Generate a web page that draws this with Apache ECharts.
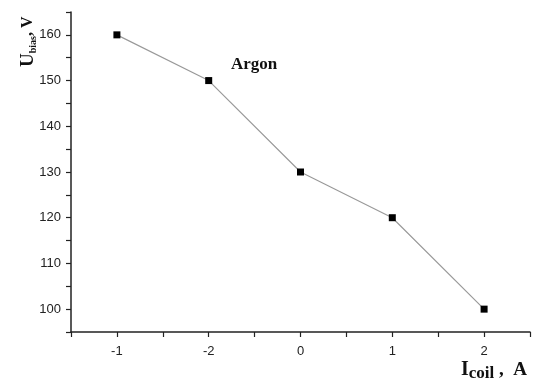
<!DOCTYPE html>
<html>
<head>
<meta charset="utf-8">
<script src="https://cdn.jsdelivr.net/npm/echarts@6/dist/echarts.min.js"></script>
<style>
  html, body { margin: 0; padding: 0; background: #fff; }
  #chart { width: 534px; height: 383px; }
</style>
</head>
<body>
<div id="chart"></div>
<script>
// Coil current settings (as labelled on the axis, in measurement order)
const coilLabels = ['-1', '-2', '0', '1', '2'];
// Bias voltage measured for each setting, V
const biasVoltage = [160, 150, 130, 120, 100];
// Voltage axis range and labelled ticks
const yMin = 95, yMax = 165;
const yLabelStep = 10;

const points = coilLabels.map((lab, i) => [i + 1, biasVoltage[i]]);

const serif = '"Liberation Serif", "Times New Roman", serif';
const sans = '"Liberation Sans", Arial, sans-serif';

const chart = echarts.init(document.getElementById('chart'), null, { renderer: 'canvas' });
chart.setOption({
  backgroundColor: '#fff',
  animation: false,
  grid: { left: 71, right: 4, top: 12, bottom: 51, containLabel: false },
  xAxis: {
    type: 'value',
    min: 0.5,
    max: coilLabels.length + 0.5,
    interval: 0.5,
    splitLine: { show: false },
    axisLine: { onZero: false, lineStyle: { color: '#222', width: 1.5 } },
    axisTick: { length: 5, lineStyle: { color: '#222', width: 1.2 } },
    axisLabel: {
      margin: 13,
      fontFamily: sans,
      fontSize: 13,
      color: '#222',
      formatter: v => Number.isInteger(v) && v >= 1 && v <= coilLabels.length ? coilLabels[v - 1] : ''
    }
  },
  yAxis: {
    type: 'value',
    min: yMin,
    max: yMax,
    interval: 5,
    splitLine: { show: false },
    axisLine: { show: true, lineStyle: { color: '#222', width: 1.5 } },
    axisTick: { length: 5, lineStyle: { color: '#222', width: 1.2 } },
    axisLabel: {
      margin: 10,
      fontFamily: sans,
      fontSize: 13,
      color: '#222',
      formatter: v => (v % yLabelStep === 0 ? String(v) : '')
    }
  },
  series: [{
    type: 'line',
    data: points,
    symbol: 'rect',
    symbolSize: 7,
    itemStyle: { color: '#000' },
    lineStyle: { color: '#9a9a9a', width: 1.2 }
  }],
  graphic: [
    {
      type: 'text',
      left: 231,
      top: 56,
      style: { text: 'Argon', font: 'bold 17px ' + serif, fill: '#111' }
    },
    {
      type: 'text',
      x: 18,
      y: 67,
      rotation: Math.PI / 2,
      style: {
        text: '{u|U}{s|bias}{u2|, V}',
        rich: {
          u: { font: 'bold 19px ' + serif, fill: '#111', lineHeight: 20, verticalAlign: 'middle' },
          s: { font: 'bold 10px ' + serif, fill: '#111', lineHeight: 20, verticalAlign: 'bottom' },
          u2: { font: 'bold 16px ' + serif, fill: '#111', lineHeight: 20, verticalAlign: 'middle' }
        }
      }
    },
    {
      type: 'text',
      x: 461,
      y: 358,
      style: {
        text: '{u|I}{s|coil}{u2| ,  A}',
        rich: {
          u: { font: 'bold 20px ' + serif, fill: '#111', lineHeight: 24, verticalAlign: 'middle' },
          s: { font: 'bold 17px ' + serif, fill: '#111', lineHeight: 24, verticalAlign: 'bottom' },
          u2: { font: 'bold 19px ' + serif, fill: '#111', lineHeight: 24, verticalAlign: 'middle' }
        }
      }
    }
  ]
});
</script>
</body>
</html>
